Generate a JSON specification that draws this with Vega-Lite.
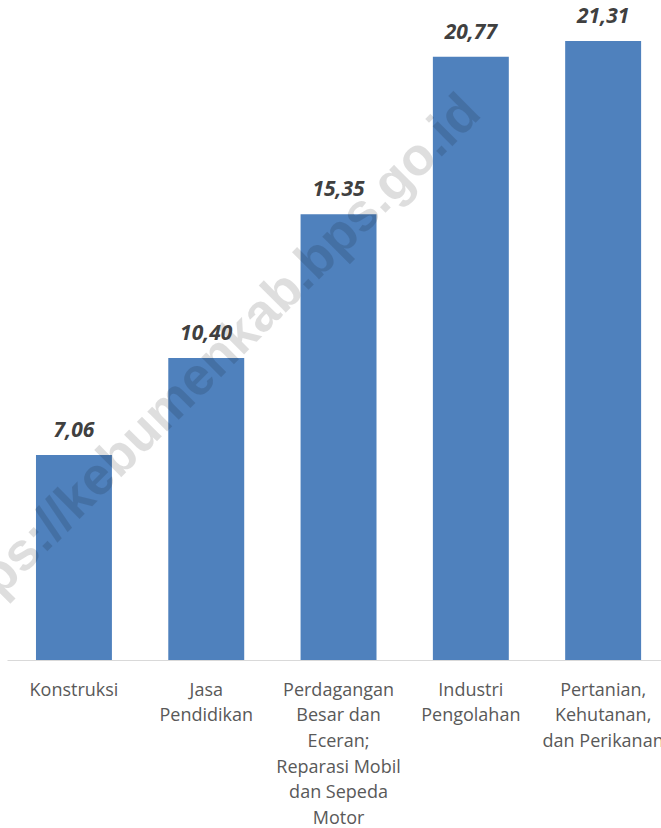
{
  "$schema": "https://vega.github.io/schema/vega-lite/v6.json",
  "width": 654,
  "height": 639,
  "autosize": {"type": "none"},
  "padding": {"left": 7, "top": 21, "right": 0, "bottom": 168},
  "config": {
    "view": {"stroke": null},
    "locale": {"number": {"decimal": ",", "thousands": ".", "grouping": [3], "currency": ["Rp", ""]}}
  },
  "datasets": {
    "sektor": [
      {"kategori": "Konstruksi", "nilai": 7.06},
      {"kategori": "Jasa Pendidikan", "nilai": 10.40},
      {"kategori": "Perdagangan Besar dan Eceran; Reparasi Mobil dan Sepeda Motor", "nilai": 15.35},
      {"kategori": "Industri Pengolahan", "nilai": 20.77},
      {"kategori": "Pertanian, Kehutanan, dan Perikanan", "nilai": 21.31}
    ],
    "tanda_air": [
      {"teks": "https://kebumenkab.bps.go.id"}
    ]
  },
  "layer": [
    {
      "data": {"name": "sektor"},
      "mark": {"type": "bar", "color": "#4f81bd"},
      "encoding": {
        "x": {
          "field": "kategori",
          "type": "nominal",
          "sort": null,
          "scale": {"paddingInner": 0.426, "paddingOuter": 0.1847, "align": 0.593},
          "axis": {
            "title": null,
            "labelAngle": 0,
            "ticks": false,
            "domainColor": "#d9d9d9",
            "domainWidth": 1,
            "labelFont": "Open Sans",
            "labelFontSize": 18,
            "labelColor": "#595959",
            "labelPadding": 21,
            "labelLineHeight": 25.7,
            "labelOverlap": false,
            "labelLimit": 300,
            "labelExpr": "datum.value == 'Jasa Pendidikan' ? ['Jasa','Pendidikan'] : datum.value == 'Perdagangan Besar dan Eceran; Reparasi Mobil dan Sepeda Motor' ? ['Perdagangan','Besar dan','Eceran;','Reparasi Mobil','dan Sepeda','Motor'] : datum.value == 'Industri Pengolahan' ? ['Industri','Pengolahan'] : datum.value == 'Pertanian, Kehutanan, dan Perikanan' ? ['Pertanian,','Kehutanan,','dan Perikanan'] : datum.label"
          }
        },
        "y": {"field": "nilai", "type": "quantitative", "scale": {"domain": [0, 22]}, "axis": null}
      }
    },
    {
      "data": {"name": "tanda_air"},
      "mark": {
        "type": "text",
        "font": "Liberation Sans",
        "fontWeight": "bold",
        "fontSize": 53,
        "angle": -45,
        "align": "center",
        "baseline": "middle",
        "fill": "#000000",
        "fillOpacity": 0.13
      },
      "encoding": {
        "x": {"datum": "Jasa Pendidikan"},
        "y": {"datum": 10},
        "text": {"field": "teks", "type": "nominal"}
      }
    },
    {
      "data": {"name": "sektor"},
      "mark": {
        "type": "text",
        "font": "Open Sans",
        "fontSize": 21,
        "fontWeight": "bold",
        "fontStyle": "italic",
        "color": "#404040",
        "baseline": "alphabetic",
        "dy": -18
      },
      "encoding": {
        "x": {"field": "kategori", "type": "nominal", "sort": null},
        "y": {"field": "nilai", "type": "quantitative"},
        "text": {"field": "nilai", "type": "quantitative", "format": ".2f"}
      }
    }
  ]
}
